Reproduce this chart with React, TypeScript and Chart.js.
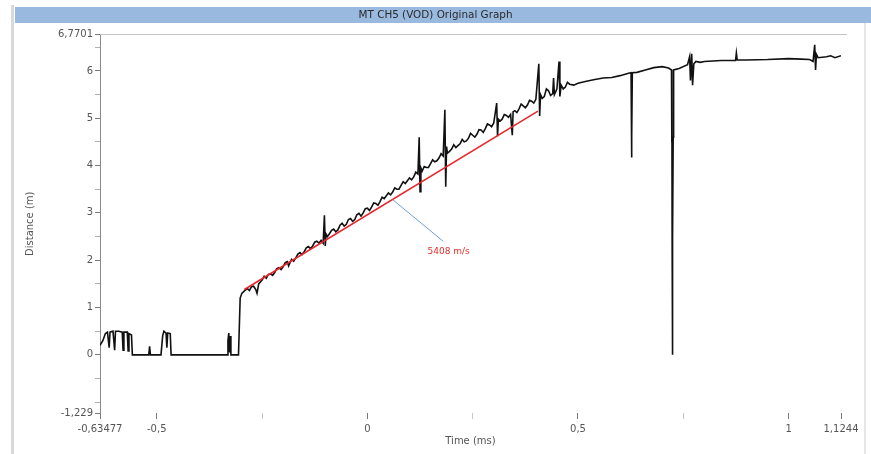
import React, { useEffect, useRef } from "react";
import { Chart, registerables } from "chart.js";

Chart.register(...registerables);

// ---- Data ----
const timeMs = [
  // pre-trigger
  -0.6348, -0.628, -0.622, -0.617, -0.613, -0.611, -0.604, -0.6, -0.598, -0.59,
  -0.582, -0.58, -0.578, -0.57, -0.568, -0.566, -0.56, -0.558, -0.519, -0.517,
  -0.515, -0.49, -0.486, -0.483, -0.478, -0.476, -0.474, -0.468, -0.466, -0.333,
  -0.331, -0.329, -0.327, -0.326, -0.324, -0.306, -0.304, -0.302, -0.298, -0.292,
  // detonation front
  -0.285, -0.28, -0.275, -0.27, -0.265, -0.262, -0.258,
  -0.25, -0.245, -0.24, -0.235, -0.23, -0.225, -0.22, -0.215, -0.21, -0.205,
  -0.2, -0.195, -0.19, -0.187, -0.185, -0.18, -0.175, -0.17, -0.165, -0.16,
  -0.155, -0.15, -0.145, -0.14, -0.135, -0.13, -0.125, -0.12, -0.115, -0.11,
  -0.105, -0.102, -0.1, -0.098, -0.095, -0.09, -0.085, -0.08, -0.075, -0.07,
  -0.065, -0.06, -0.055, -0.05, -0.045, -0.04, -0.035, -0.03, -0.025, -0.02,
  -0.015, -0.01, -0.005, 0.0, 0.005, 0.01, 0.015, 0.02, 0.025, 0.03,
  0.035, 0.04, 0.045, 0.05, 0.055, 0.06, 0.065, 0.07, 0.075, 0.08,
  0.085, 0.09, 0.095, 0.1, 0.105, 0.11, 0.115, 0.12, 0.123, 0.125,
  0.127, 0.13, 0.135, 0.14, 0.145, 0.15, 0.155, 0.16, 0.165, 0.17,
  0.175, 0.18, 0.184, 0.186, 0.188, 0.19, 0.195, 0.2, 0.205, 0.21,
  0.215, 0.22, 0.225, 0.23, 0.235, 0.24, 0.245, 0.25, 0.255, 0.26,
  0.265, 0.27, 0.275, 0.28, 0.285, 0.29, 0.295, 0.3, 0.307, 0.309,
  0.311, 0.315, 0.32, 0.325, 0.33, 0.335, 0.34, 0.344, 0.346, 0.35,
  0.355, 0.36, 0.365, 0.37, 0.375, 0.38, 0.385, 0.39, 0.395, 0.4,
  0.407, 0.409, 0.411, 0.415, 0.42, 0.425, 0.43, 0.435, 0.44, 0.442,
  0.444, 0.45, 0.455, 0.457, 0.46, 0.465, 0.47, 0.475, 0.48, 0.49,
  // plateau
  0.5, 0.52, 0.54, 0.56, 0.58, 0.6, 0.62, 0.626, 0.627, 0.628,
  0.629, 0.64, 0.66, 0.68, 0.7, 0.715, 0.722, 0.7225, 0.723, 0.7235,
  0.724, 0.7245, 0.725, 0.726, 0.727, 0.74, 0.76, 0.765, 0.767, 0.77,
  0.772, 0.775, 0.78, 0.79, 0.8, 0.84, 0.874, 0.876, 0.878, 0.9,
  0.95, 1.0, 1.03, 1.05, 1.058, 1.062, 1.064, 1.066, 1.07, 1.09,
  1.1, 1.11, 1.1244,
];
const distanceM = [
  // pre-trigger
  0.2, 0.3, 0.45, 0.48, 0.15, 0.48, 0.5, 0.1, 0.5, 0.5,
  0.48, 0.1, 0.48, 0.48, 0.08, 0.45, 0.42, 0.0, 0.0, 0.18,
  0.0, 0.0, 0.4, 0.5, 0.46, 0.15, 0.46, 0.45, 0.0, 0.0,
  0.3, 0.46, 0.05, 0.4, 0.0, 0.0, 0.6, 1.2, 1.3, 1.35,
  // detonation front
  1.4, 1.36, 1.44, 1.45, 1.38, 1.3, 1.5,
  1.58, 1.66, 1.62, 1.7, 1.71, 1.68, 1.74, 1.82, 1.84, 1.8,
  1.86, 1.95, 1.97, 1.88, 1.92, 2.02, 1.98, 2.05, 2.13, 2.16,
  2.12, 2.18, 2.26, 2.29, 2.24, 2.3, 2.38, 2.4, 2.36, 2.42,
  2.36, 2.95, 2.3, 2.55, 2.5, 2.56, 2.63, 2.66, 2.6, 2.64,
  2.74, 2.78, 2.72, 2.76, 2.86, 2.88, 2.82, 2.86, 2.96, 2.99,
  2.93, 3.0, 3.09, 3.1, 3.05, 3.12, 3.21, 3.2, 3.16, 3.24,
  3.33, 3.3, 3.36, 3.42, 3.38, 3.44, 3.53, 3.5, 3.5, 3.58,
  3.66, 3.62, 3.68, 3.74, 3.7, 3.76, 3.86, 3.82, 4.6, 3.45,
  3.95, 3.88, 3.98, 3.96, 3.96, 4.04, 4.12, 4.08, 4.1, 4.16,
  4.25, 4.2, 5.18, 3.55, 4.4, 4.26, 4.3, 4.35, 4.44, 4.38,
  4.42, 4.46, 4.55, 4.5, 4.52, 4.58, 4.68, 4.64, 4.6, 4.66,
  4.76, 4.75, 4.7, 4.78, 4.88, 4.86, 4.82, 4.9, 5.32, 4.62,
  4.98, 4.94, 4.98, 5.08, 5.06, 5.02, 5.08, 4.64, 5.14, 5.16,
  5.12, 5.2, 5.3, 5.26, 5.22, 5.28, 5.38, 5.36, 5.32, 5.4,
  6.15, 5.05, 5.5, 5.42, 5.46, 5.62, 5.58, 5.48, 5.52, 5.85,
  5.5, 5.62, 6.2, 5.46, 5.7, 5.62, 5.66, 5.76, 5.72, 5.7,
  // plateau
  5.74, 5.78, 5.82, 5.85, 5.86, 5.9, 5.95, 5.96, 4.17, 4.6,
  5.96, 5.97, 6.02, 6.07, 6.09, 6.06, 6.02, 4.5, 5.9, 2.42,
  0.0, 4.55, 2.42, 4.6, 6.02, 6.05, 6.13, 6.3, 5.8, 6.36,
  5.7, 6.15, 6.2, 6.18, 6.2, 6.22, 6.22, 6.38, 6.23, 6.23,
  6.24, 6.26, 6.25, 6.24, 6.2, 6.55, 6.02, 6.35, 6.28, 6.3,
  6.32, 6.28, 6.32,
];

const fitTime = [-0.292, 0.405];
const fitDistance = [1.38, 5.15];
const arrowTime = [0.06, 0.18];
const arrowDistance = [3.28, 2.4];
const fitLabel = "5408 m/s";
const fitLabelTime = 0.193;
const fitLabelDistance = 2.19;

const xTickValues = [-0.63477, -0.5, -0.25, 0, 0.25, 0.5, 0.75, 1, 1.1244];
const xTickLabels = ["-0,63477", "-0,5", "", "0", "", "0,5", "", "1", "1,1244"];
const yTickValues = [6.7701, 6.5, 6, 5.5, 5, 4.5, 4, 3.5, 3, 2.5, 2, 1.5, 1, 0.5, 0, -0.5, -1, -1.229];
const yTickLabels = ["6,7701", "", "6", "", "5", "", "4", "", "3", "", "2", "", "1", "", "0", "", "", "-1,229"];

const X_MIN = -0.63477;
const X_MAX = 1.1244;
const Y_MIN = -1.229;
const Y_MAX = 6.7701;

const TITLE = "MT CH5 (VOD) Original Graph";
const FONT = "'DejaVu Sans', Verdana, sans-serif";

export default function App() {
  const canvasRef = useRef<HTMLCanvasElement | null>(null);

  useEffect(() => {
    document.body.style.margin = "0";
    const canvas = canvasRef.current;
    if (!canvas) return;

    const framePlugin = {
      id: "frame",
      beforeDraw(chart: any) {
        const ctx = chart.ctx;
        ctx.save();
        ctx.fillStyle = "#ffffff";
        ctx.fillRect(0, 0, chart.width, chart.height);
        ctx.fillStyle = "#d9d9d9";
        ctx.fillRect(11, 5, 3, chart.height - 5);
        ctx.fillStyle = "#e6e6e6";
        ctx.fillRect(864, 23, 2, chart.height - 23);
        ctx.fillStyle = "#9ab9de";
        ctx.fillRect(15, 7, 856, 16);
        ctx.restore();
      },
      afterDraw(chart: any) {
        const ctx = chart.ctx;
        const a = chart.chartArea;
        ctx.save();
        ctx.strokeStyle = "#c4c4c4";
        ctx.lineWidth = 1;
        ctx.beginPath();
        ctx.moveTo(a.left, Math.round(a.top) + 0.5);
        ctx.lineTo(847, Math.round(a.top) + 0.5);
        ctx.stroke();
        ctx.restore();
      },
    };

    const labelPlugin = {
      id: "fitLabel",
      afterDatasetsDraw(chart: any) {
        const ctx = chart.ctx;
        const x = chart.scales.x.getPixelForValue(fitLabelTime);
        const y = chart.scales.y.getPixelForValue(fitLabelDistance);
        ctx.save();
        ctx.fillStyle = "#e0302a";
        ctx.font = `9px ${FONT}`;
        ctx.textAlign = "center";
        ctx.textBaseline = "middle";
        ctx.fillText(fitLabel, x, y);
        ctx.restore();
      },
    };

    const tickFont = { family: FONT, size: 10 };

    const chart = new Chart(canvas, {
      type: "line",
      data: {
        datasets: [
          {
            label: "Distance",
            data: timeMs.map((t, i) => ({ x: t, y: distanceM[i] })),
            borderColor: "#111111",
            borderWidth: 1.6,
            pointRadius: 0,
            tension: 0,
            order: 3,
          },
          {
            label: "Fit",
            data: fitTime.map((t, i) => ({ x: t, y: fitDistance[i] })),
            borderColor: "#e8262c",
            borderWidth: 1.6,
            pointRadius: 0,
            order: 2,
          },
          {
            label: "Pointer",
            data: arrowTime.map((t, i) => ({ x: t, y: arrowDistance[i] })),
            borderColor: "#6f9fd6",
            borderWidth: 1,
            pointRadius: 0,
            order: 1,
          },
        ],
      },
      options: {
        responsive: false,
        animation: false,
        devicePixelRatio: 1,
        layout: { padding: { left: 0, right: 0, top: 0, bottom: 0 } },
        plugins: {
          legend: { display: false },
          tooltip: { enabled: false },
          title: {
            display: true,
            text: TITLE,
            color: "#2a2a2a",
            font: { family: FONT, size: 10.4, weight: "normal" },
            padding: { top: 9, bottom: 13 },
          },
        },
        scales: {
          x: {
            type: "linear",
            min: X_MIN,
            max: X_MAX,
            afterBuildTicks: (s: any) => {
              s.ticks = xTickValues.map((v) => ({ value: v }));
            },
            afterFit: (s: any) => {
              s.height = 41;
            },
            ticks: {
              autoSkip: false,
              maxRotation: 0,
              minRotation: 0,
              padding: 4,
              color: "#555555",
              font: tickFont,
              callback: (_v: any, i: number) => xTickLabels[i],
            },
            grid: {
              drawOnChartArea: false,
              drawTicks: true,
              tickLength: 6,
              color: (c: any) => (c.index !== undefined && xTickLabels[c.index] === "" ? "#c8c8c8" : "#7a7a7a"),
            },
            border: { display: false },
            title: {
              display: true,
              text: "Time (ms)",
              color: "#555555",
              font: tickFont,
              padding: { top: 0, bottom: 7 },
            },
          },
          y: {
            type: "linear",
            min: Y_MIN,
            max: Y_MAX,
            afterBuildTicks: (s: any) => {
              s.ticks = yTickValues.map((v) => ({ value: v }));
            },
            afterFit: (s: any) => {
              s.width = 100;
            },
            ticks: {
              autoSkip: false,
              padding: 2,
              color: "#555555",
              font: tickFont,
              callback: (_v: any, i: number) => yTickLabels[i],
            },
            grid: {
              drawOnChartArea: false,
              drawTicks: true,
              tickLength: 5,
              color: (c: any) => (c.index !== undefined && yTickLabels[c.index] === "" ? "#b0b0b0" : "#7a7a7a"),
            },
            border: { display: true, color: "#8a8a8a", width: 1 },
            title: {
              display: true,
              text: "Distance (m)",
              color: "#555555",
              font: tickFont,
              padding: { top: 24, bottom: 0 },
            },
          },
          rightSpace: {
            type: "linear",
            position: "right",
            min: Y_MIN,
            max: Y_MAX,
            afterFit: (s: any) => {
              s.width = 30;
            },
            ticks: { display: false },
            grid: { display: false, drawTicks: false },
            border: { display: false },
          },
        },
      },
      plugins: [framePlugin, labelPlugin],
    } as any);

    return () => {
      chart.destroy();
    };
  }, []);

  return (
    <div style={{ width: 871, height: 454, position: "relative", background: "#fff" }}>
      <canvas ref={canvasRef} width={871} height={454} style={{ display: "block" }} />
    </div>
  );
}
